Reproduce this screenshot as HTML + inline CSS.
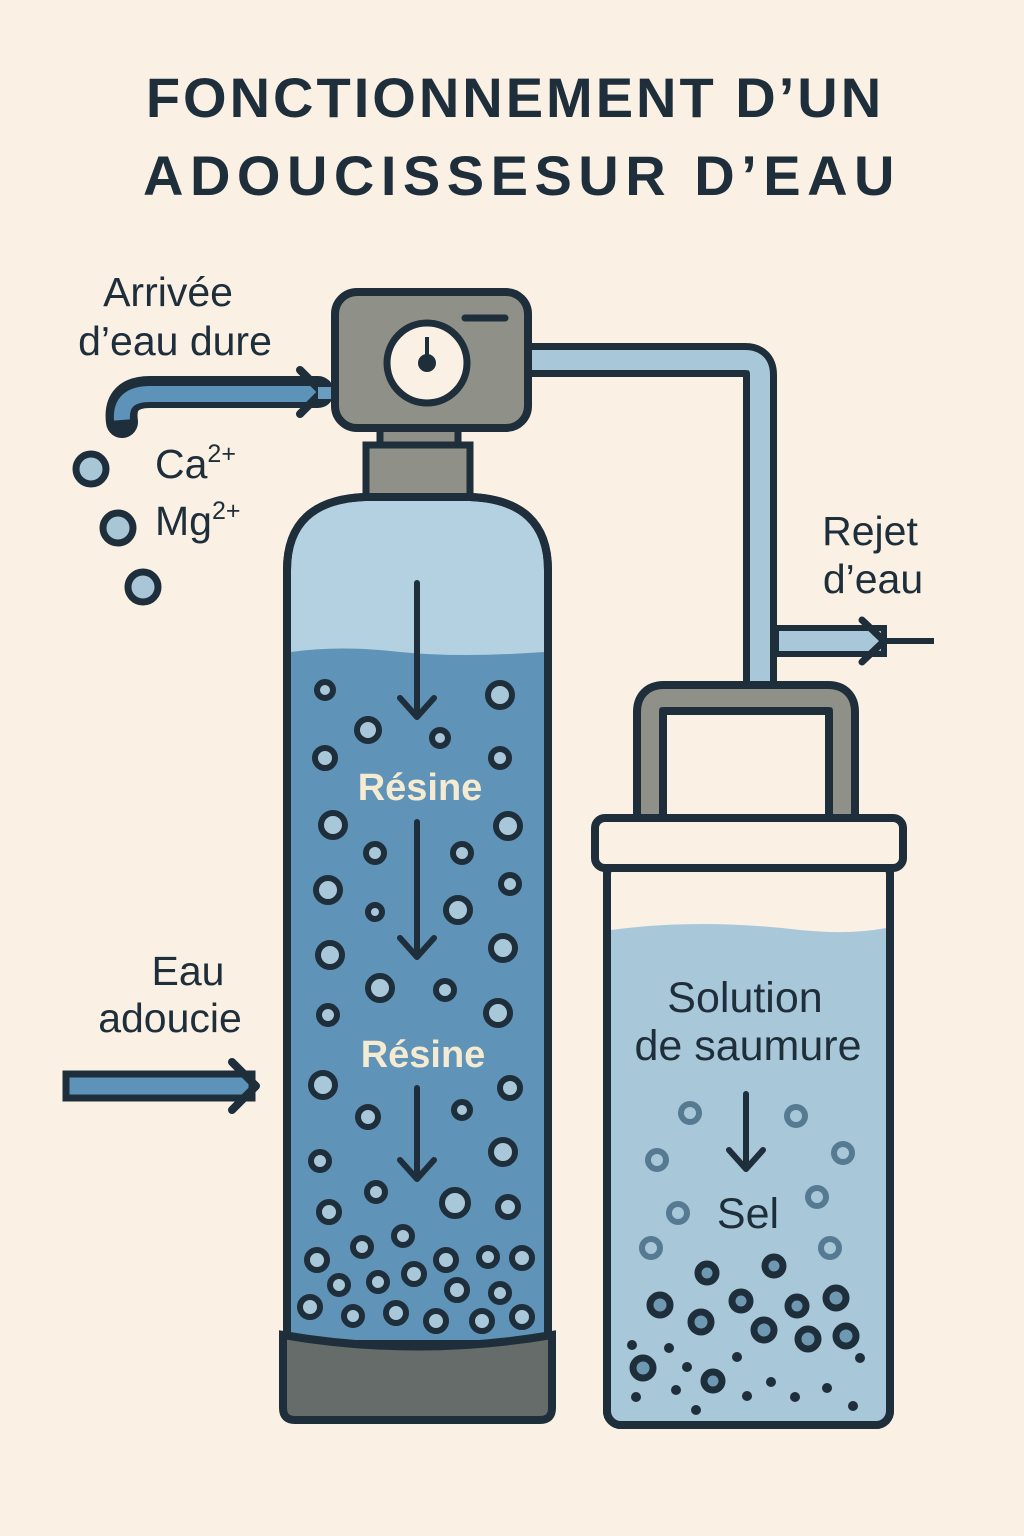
<!DOCTYPE html>
<html><head><meta charset="utf-8"><style>
html,body{margin:0;padding:0;background:#faf0e4;}
svg{display:block}
text{font-family:"Liberation Sans","DejaVu Sans",sans-serif;}
</style></head><body>
<svg width="1024" height="1536" viewBox="0 0 1024 1536" xmlns="http://www.w3.org/2000/svg">
<rect width="1024" height="1536" fill="#faf0e4"/>
<g fill="#1e2e3a" font-weight="bold" font-size="56" text-anchor="middle">
<text x="515" y="117" letter-spacing="3">FONCTIONNEMENT D’UN</text>
<text x="522" y="195" letter-spacing="6.5">ADOUCISSESUR D’EAU</text>
</g>
<g fill="#1e2e3a" font-size="41">
<text x="168" y="306" text-anchor="middle">Arrivée</text>
<text x="175" y="355" text-anchor="middle">d’eau dure</text>
<text x="155" y="478">Ca<tspan font-size="25" dy="-16">2+</tspan></text>
<text x="155" y="535">Mg<tspan font-size="25" dy="-16">2+</tspan></text>
<text x="870" y="545" text-anchor="middle">Rejet</text>
<text x="873" y="593" text-anchor="middle">d’eau</text>
<text x="188" y="985" text-anchor="middle">Eau</text>
<text x="170" y="1032" text-anchor="middle">adoucie</text>
</g>
<!-- inlet pipe -->
<path d="M122 422 Q118 392 150 392 L318 392" fill="none" stroke="#1e2e3a" stroke-width="32" stroke-linecap="round"/>
<path d="M122 420 Q120 394 150 394 L318 394" fill="none" stroke="#5d93b9" stroke-width="16"/>
<path d="M300 370 L322 392 L300 414" fill="none" stroke="#1e2e3a" stroke-width="8" stroke-linecap="round" stroke-linejoin="round"/>
<rect x="318" y="387" width="20" height="12" fill="#6a9dc0"/>
<g stroke="#1e2e3a" stroke-width="7" fill="#a8c6d6">
<circle cx="91" cy="469" r="15"/><circle cx="118" cy="528" r="15"/><circle cx="143" cy="587" r="15"/>
</g>
<!-- soft water arrow -->
<rect x="66" y="1074" width="186" height="24" fill="#5d93b9" stroke="#1e2e3a" stroke-width="7"/>
<path d="M232 1062 L256 1086 L232 1110" fill="none" stroke="#1e2e3a" stroke-width="8" stroke-linecap="round" stroke-linejoin="round"/>
<!-- pipe to brine -->
<path d="M525 360 L745 360 Q760 360 760 375 L760 690" fill="none" stroke="#1e2e3a" stroke-width="34"/>
<path d="M525 360 L745 360 Q760 360 760 375 L760 690" fill="none" stroke="#a8c8da" stroke-width="20"/>
<!-- reject arrow -->
<rect x="776" y="628" width="108" height="26" fill="#a8c8da" stroke="#1e2e3a" stroke-width="6"/>
<line x1="884" y1="641" x2="934" y2="641" stroke="#1e2e3a" stroke-width="6"/>
<path d="M862 620 L884 641 L862 662" fill="none" stroke="#1e2e3a" stroke-width="7" stroke-linecap="round" stroke-linejoin="round"/>
<!-- valve -->
<rect x="380" y="424" width="78" height="30" fill="#8f9188" stroke="#1e2e3a" stroke-width="7"/>
<rect x="366" y="445" width="104" height="60" fill="#8f9188" stroke="#1e2e3a" stroke-width="7"/>
<rect x="335" y="292" width="193" height="136" rx="22" fill="#8f9188" stroke="#1e2e3a" stroke-width="8"/>
<line x1="465" y1="318" x2="505" y2="318" stroke="#1e2e3a" stroke-width="7" stroke-linecap="round"/>
<circle cx="427" cy="363" r="40" fill="#faf0e4" stroke="#1e2e3a" stroke-width="7"/>
<line x1="427" y1="337" x2="427" y2="362" stroke="#1e2e3a" stroke-width="4"/>
<circle cx="427" cy="363" r="9" fill="#1e2e3a"/>
<!-- tank -->
<path d="M287 1340 L287 570 Q287 500 365 497 L470 497 Q548 500 548 570 L548 1340 Z" fill="#b3d1e0" stroke="#1e2e3a" stroke-width="8"/>
<path d="M291 652 Q340 645 400 652 Q460 658 544 652 L544 1340 L291 1340 Z" fill="#5f93b7"/>
<path d="M287 1340 L287 570 Q287 500 365 497 L470 497 Q548 500 548 570 L548 1340" fill="none" stroke="#1e2e3a" stroke-width="8"/>
<path d="M283 1335 Q417 1358 552 1335 L552 1408 Q552 1420 540 1420 L295 1420 Q283 1420 283 1408 Z" fill="#656c69" stroke="#1e2e3a" stroke-width="8"/>
<g stroke="#1e2e3a" stroke-width="6" fill="none" stroke-linecap="round" stroke-linejoin="round">
<line x1="417" y1="583" x2="417" y2="715"/><path d="M400 698 L417 717 L434 698"/>
<line x1="417" y1="822" x2="417" y2="955"/><path d="M400 938 L417 957 L434 938"/>
<line x1="417" y1="1088" x2="417" y2="1178"/><path d="M400 1160 L417 1179 L434 1160"/>
</g>
<g fill="#f5ead2" font-size="38" font-weight="bold" text-anchor="middle">
<text x="420" y="800">Résine</text><text x="423" y="1067">Résine</text>
</g>
<g stroke="#1e2e3a" stroke-width="6" fill="#a8c8da">
<circle cx="325" cy="690" r="8"/><circle cx="500" cy="695" r="12"/><circle cx="368" cy="730" r="11"/><circle cx="440" cy="738" r="8"/>
<circle cx="325" cy="758" r="10"/><circle cx="500" cy="758" r="9"/><circle cx="333" cy="825" r="12"/><circle cx="508" cy="826" r="12"/>
<circle cx="375" cy="853" r="9"/><circle cx="462" cy="853" r="9"/><circle cx="328" cy="890" r="12"/><circle cx="510" cy="884" r="9"/>
<circle cx="375" cy="912" r="7"/><circle cx="458" cy="910" r="12"/><circle cx="330" cy="955" r="12"/><circle cx="503" cy="948" r="12"/>
<circle cx="380" cy="988" r="12"/><circle cx="445" cy="990" r="9"/><circle cx="328" cy="1015" r="9"/><circle cx="498" cy="1013" r="12"/>
<circle cx="323" cy="1085" r="12"/><circle cx="368" cy="1117" r="10"/><circle cx="462" cy="1110" r="8"/><circle cx="510" cy="1088" r="10"/>
<circle cx="320" cy="1161" r="9"/><circle cx="503" cy="1152" r="12"/><circle cx="376" cy="1192" r="9"/><circle cx="455" cy="1203" r="13"/>
<circle cx="508" cy="1207" r="10"/><circle cx="329" cy="1212" r="10"/><circle cx="403" cy="1236" r="9"/><circle cx="362" cy="1247" r="9"/>
<circle cx="317" cy="1260" r="10"/><circle cx="446" cy="1260" r="10"/><circle cx="488" cy="1257" r="9"/><circle cx="522" cy="1258" r="10"/>
<circle cx="339" cy="1285" r="9"/><circle cx="378" cy="1282" r="9"/><circle cx="414" cy="1274" r="10"/><circle cx="457" cy="1290" r="10"/>
<circle cx="500" cy="1293" r="9"/><circle cx="310" cy="1307" r="10"/><circle cx="353" cy="1316" r="9"/><circle cx="396" cy="1313" r="10"/>
<circle cx="436" cy="1321" r="10"/><circle cx="482" cy="1321" r="10"/><circle cx="522" cy="1317" r="10"/>
</g>
<!-- brine tank handle -->
<path d="M650 822 L650 712 Q650 698 664 698 L828 698 Q842 698 842 712 L842 822" fill="none" stroke="#1e2e3a" stroke-width="34"/>
<path d="M650 822 L650 712 Q650 698 664 698 L828 698 Q842 698 842 712 L842 822" fill="none" stroke="#8f9188" stroke-width="18"/>
<rect x="607" y="860" width="283" height="565" rx="14" fill="#faf0e4" stroke="#1e2e3a" stroke-width="8"/>
<path d="M611 930 Q700 918 800 930 Q850 935 886 928 L886 1410 Q886 1421 875 1421 L622 1421 Q611 1421 611 1410 Z" fill="#a8c8da"/>
<rect x="607" y="860" width="283" height="565" rx="14" fill="none" stroke="#1e2e3a" stroke-width="8"/>
<rect x="595" y="818" width="308" height="50" rx="10" fill="#faf0e4" stroke="#1e2e3a" stroke-width="8"/>
<g fill="#1e2e3a" font-size="43" text-anchor="middle">
<text x="745" y="1012">Solution</text><text x="748" y="1060">de saumure</text><text x="748" y="1228">Sel</text>
</g>
<g stroke="#1e2e3a" stroke-width="6" fill="none" stroke-linecap="round" stroke-linejoin="round">
<line x1="746" y1="1094" x2="746" y2="1168"/><path d="M729 1150 L746 1169 L763 1150"/>
</g>
<g stroke="#577a93" stroke-width="6" fill="#a8c8da">
<circle cx="690" cy="1113" r="9"/><circle cx="796" cy="1116" r="9"/><circle cx="657" cy="1160" r="9"/><circle cx="843" cy="1153" r="9"/>
<circle cx="678" cy="1213" r="9"/><circle cx="817" cy="1197" r="9"/><circle cx="651" cy="1248" r="9"/><circle cx="830" cy="1248" r="9"/>
</g>
<g stroke="#1e2e3a" stroke-width="7" fill="#6f98b3">
<circle cx="707" cy="1273" r="9"/><circle cx="774" cy="1266" r="9"/><circle cx="660" cy="1305" r="10"/><circle cx="741" cy="1301" r="9"/>
<circle cx="797" cy="1306" r="9"/><circle cx="836" cy="1298" r="10"/><circle cx="701" cy="1322" r="10"/><circle cx="764" cy="1330" r="10"/>
<circle cx="643" cy="1368" r="10"/><circle cx="713" cy="1381" r="9"/><circle cx="808" cy="1339" r="10"/><circle cx="846" cy="1336" r="10"/>
</g>
<g fill="#1e2e3a">
<circle cx="632" cy="1345" r="5"/><circle cx="669" cy="1348" r="5"/><circle cx="687" cy="1367" r="5"/><circle cx="737" cy="1357" r="5"/>
<circle cx="771" cy="1382" r="5"/><circle cx="860" cy="1358" r="5"/><circle cx="636" cy="1397" r="5"/><circle cx="676" cy="1390" r="5"/>
<circle cx="696" cy="1410" r="5"/><circle cx="747" cy="1396" r="5"/><circle cx="795" cy="1397" r="5"/><circle cx="827" cy="1388" r="5"/><circle cx="853" cy="1406" r="5"/>
</g>
</svg>
</body></html>
